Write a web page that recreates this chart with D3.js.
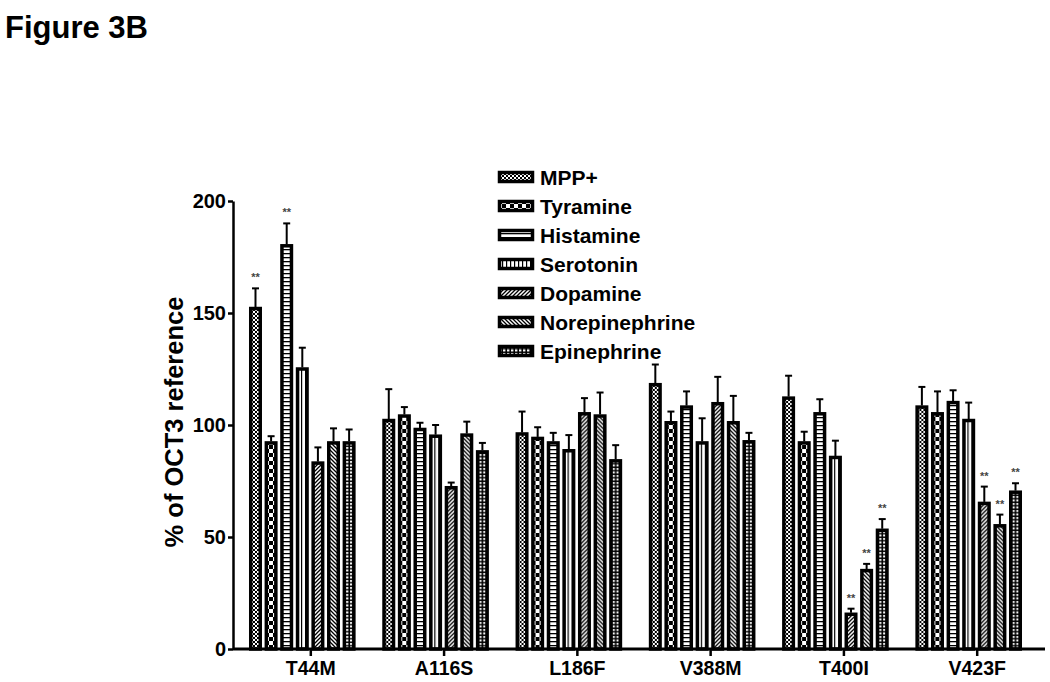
<!DOCTYPE html>
<html>
<head>
<meta charset="utf-8">
<script src="https://cdn.jsdelivr.net/npm/d3@7"></script>
<style>
  body { margin: 0; background: #fff; }
  text { font-family: Arial, "Liberation Sans", sans-serif; font-weight: bold; }
</style>
</head>
<body>
<div id="chart"></div>
<script>
// ---------- data ----------
const groups = ["T44M", "A116S", "L186F", "V388M", "T400I", "V423F"];
const seriesNames = ["MPP+", "Tyramine", "Histamine", "Serotonin", "Dopamine", "Norepinephrine", "Epinephrine"];

const mppVals = [152, 102, 96, 118, 112, 108];
const mppErr  = [9, 14, 10, 9, 10, 9];
const tyrVals = [92, 104, 94, 101, 92, 105];
const tyrErr  = [3, 4, 5, 5, 5, 10];
const hisVals = [180, 98, 92, 108, 105, 110];
const hisErr  = [10, 3, 4.5, 7, 6.5, 5.5];
const serVals = [125, 95, 88.5, 92, 85.5, 102];
const serErr  = [9.5, 5, 7, 11, 7.5, 8];
const dopVals = [83, 72, 105, 109.5, 15.5, 65];
const dopErr  = [7, 2.3, 7, 12, 2.5, 7.5];
const norVals = [92, 95.5, 104, 101, 35, 55];
const norErr  = [6.5, 6, 10.5, 12, 3, 5];
const epiVals = [92, 88, 84, 92.5, 53, 70];
const epiErr  = [6, 4, 7, 4, 5, 4];

// "**" significance markers (1 = marked)
const mppSig = [1, 0, 0, 0, 0, 0];
const tyrSig = [0, 0, 0, 0, 0, 0];
const hisSig = [1, 0, 0, 0, 0, 0];
const serSig = [0, 0, 0, 0, 0, 0];
const dopSig = [0, 0, 0, 0, 1, 1];
const norSig = [0, 0, 0, 0, 1, 1];
const epiSig = [0, 0, 0, 0, 1, 1];

const yTicks = [0, 50, 100, 150, 200];

const seriesData = [
  { name: "MPP+", vals: mppVals, err: mppErr, sig: mppSig, pat: "pMpp" },
  { name: "Tyramine", vals: tyrVals, err: tyrErr, sig: tyrSig, pat: "pTyr" },
  { name: "Histamine", vals: hisVals, err: hisErr, sig: hisSig, pat: "pHis" },
  { name: "Serotonin", vals: serVals, err: serErr, sig: serSig, pat: "pSer" },
  { name: "Dopamine", vals: dopVals, err: dopErr, sig: dopSig, pat: "pDop" },
  { name: "Norepinephrine", vals: norVals, err: norErr, sig: norSig, pat: "pNor" },
  { name: "Epinephrine", vals: epiVals, err: epiErr, sig: epiSig, pat: "pEpi" }
];

// ---------- layout ----------
const W = 1050, H = 682;
const margin = { top: 201, left: 233 };
const plotH = 448;
const plotW = 812;

const svg = d3.select("#chart").append("svg")
  .attr("width", W)
  .attr("height", H);

// patterns for the bar fills
const defs = svg.append("defs");
function pattern(id, w, h) {
  const p = defs.append("pattern")
    .attr("id", id)
    .attr("patternUnits", "userSpaceOnUse")
    .attr("width", w).attr("height", h);
  return p;
}
// fine checker
let p = pattern("pMpp", 4, 4);
p.append("rect").attr("width", 4).attr("height", 4).attr("fill", "#fff");
p.append("rect").attr("width", 2).attr("height", 2).attr("fill", "#000");
p.append("rect").attr("x", 2).attr("y", 2).attr("width", 2).attr("height", 2).attr("fill", "#000");
// large checker
p = pattern("pTyr", 8, 8);
p.append("rect").attr("width", 8).attr("height", 8).attr("fill", "#fff");
p.append("rect").attr("width", 4).attr("height", 4).attr("fill", "#000");
p.append("rect").attr("x", 4).attr("y", 4).attr("width", 4).attr("height", 4).attr("fill", "#000");
// horizontal lines
p = pattern("pHis", 4, 4);
p.append("rect").attr("width", 4).attr("height", 4).attr("fill", "#fff");
p.append("rect").attr("width", 4).attr("height", 1.3).attr("fill", "#000");
// vertical lines
p = pattern("pSer", 4, 4);
p.append("rect").attr("width", 4).attr("height", 4).attr("fill", "#fff");
p.append("rect").attr("width", 1.2).attr("height", 4).attr("fill", "#000");
// diagonal /
p = pattern("pDop", 4, 4);
p.append("rect").attr("width", 4).attr("height", 4).attr("fill", "#fff");
p.append("path").attr("d", "M-1,1 L1,-1 M0,4 L4,0 M3,5 L5,3").attr("stroke", "#000").attr("stroke-width", 1.3);
// diagonal \
p = pattern("pNor", 4, 4);
p.append("rect").attr("width", 4).attr("height", 4).attr("fill", "#fff");
p.append("path").attr("d", "M-1,3 L1,5 M0,0 L4,4 M3,-1 L5,1").attr("stroke", "#000").attr("stroke-width", 1.3);
// grid of small squares
p = pattern("pEpi", 4, 3.5);
p.append("rect").attr("width", 4).attr("height", 3.5).attr("fill", "#000");
p.append("rect").attr("x", 1).attr("y", 1).attr("width", 2.4).attr("height", 2).attr("fill", "#fff");

// title
svg.append("text")
  .attr("x", 5).attr("y", 38)
  .style("font-size", "31px")
  .text("Figure 3B");

const g = svg.append("g")
  .attr("transform", `translate(${margin.left},${margin.top})`);

// scales
const x0 = d3.scaleBand()
  .domain(groups)
  .range([0, 805])
  .paddingInner(0.2)
  .paddingOuter(0.12);

const x1 = d3.scaleBand()
  .domain(seriesNames)
  .range([0, x0.bandwidth()])
  .paddingInner(0.167);

const y = d3.scaleLinear()
  .domain([0, 200])
  .range([plotH, 0]);

// bars
const barGroups = g.selectAll(".grp")
  .data(groups)
  .enter().append("g")
  .attr("class", "grp")
  .attr("transform", d => `translate(${x0(d)},0)`);

barGroups.each(function(grp, gi) {
  const sel = d3.select(this);
  seriesData.forEach(s => {
    const v = s.vals[gi], e = s.err[gi];
    const cx = x1(s.name) + x1.bandwidth() / 2;
    sel.append("rect")
      .attr("x", x1(s.name) + 1.75)
      .attr("y", y(v))
      .attr("width", x1.bandwidth() - 3.5)
      .attr("height", y(0) - y(v))
      .attr("fill", `url(#${s.pat})`)
      .attr("stroke", "#000")
      .attr("stroke-width", 3.5);
    // error bar (upper only)
    sel.append("line")
      .attr("x1", cx).attr("x2", cx)
      .attr("y1", y(v) - 1.5).attr("y2", y(v + e))
      .attr("stroke", "#000").attr("stroke-width", 2);
    sel.append("line")
      .attr("x1", cx - 3.5).attr("x2", cx + 3.5)
      .attr("y1", y(v + e)).attr("y2", y(v + e))
      .attr("stroke", "#000").attr("stroke-width", 2);
    if (s.sig[gi]) {
      sel.append("text")
        .attr("x", cx)
        .attr("y", y(v + e) - 7)
        .attr("text-anchor", "middle")
        .style("font-size", "11px")
        .style("fill", "#444")
        .text("**");
    }
  });
});

// y axis
const yAxis = g.append("g")
  .call(d3.axisLeft(y).tickValues(yTicks).tickSize(5).tickSizeOuter(0).tickPadding(2));
yAxis.select(".domain").attr("stroke-width", 2.5);
yAxis.selectAll(".tick line").attr("stroke-width", 2.5);
yAxis.selectAll(".tick text")
  .style("font-size", "20px")
  .style("font-family", "Arial, 'Liberation Sans', sans-serif")
  .style("font-weight", "bold")
  .attr("fill", "#000");

// x axis line
g.append("line")
  .attr("x1", 0).attr("x2", plotW)
  .attr("y1", y(0)).attr("y2", y(0))
  .attr("stroke", "#000").attr("stroke-width", 3);

// x ticks and labels (ticks sit a little right of the group centre, as in the figure)
const tickOffset = 8.5;
groups.forEach(grp => {
  const tx = x0(grp) + x0.bandwidth() / 2 + tickOffset;
  g.append("line")
    .attr("x1", tx).attr("x2", tx)
    .attr("y1", y(0)).attr("y2", y(0) + 7)
    .attr("stroke", "#000").attr("stroke-width", 2.5);
  g.append("text")
    .attr("x", tx)
    .attr("y", y(0) + 26)
    .attr("text-anchor", "middle")
    .style("font-size", "19.5px")
    .text(grp);
});

// y axis title
svg.append("text")
  .attr("transform", "translate(183,422) rotate(-90)")
  .attr("text-anchor", "middle")
  .style("font-size", "25.5px")
  .text("% of OCT3 reference");

// legend
const legend = svg.append("g")
  .attr("transform", "translate(498,171)");
seriesData.forEach((s, i) => {
  const row = legend.append("g").attr("transform", `translate(0,${i * 29})`);
  row.append("rect")
    .attr("x", 1.5).attr("y", 1.5)
    .attr("width", 33).attr("height", 9)
    .attr("fill", `url(#${s.pat})`)
    .attr("stroke", "#000").attr("stroke-width", 3.5);
  row.append("text")
    .attr("x", 42).attr("y", 6)
    .attr("dy", "0.36em")
    .style("font-size", "21px")
    .text(s.name);
});
</script>
</body>
</html>
